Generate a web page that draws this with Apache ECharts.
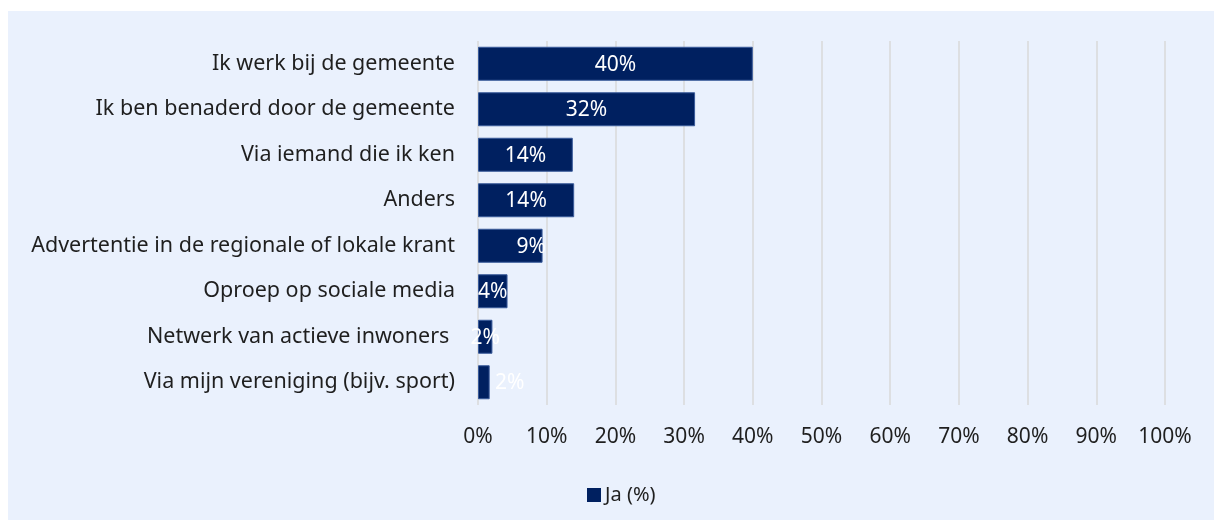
<!DOCTYPE html>
<html>
<head>
<meta charset="utf-8">
<script src="https://cdn.jsdelivr.net/npm/echarts@6/dist/echarts.min.js"></script>
<style>
  html, body { margin: 0; padding: 0; background: #ffffff; }
  #chart { position: absolute; left: 8px; top: 11px; width: 1206px; height: 509px; background: #EAF1FD; }
</style>
</head>
<body>
<div id="chart"></div>
<script>
// Categories (top to bottom) and share answering "Ja" in percent
const categories = [
  'Ik werk bij de gemeente',
  'Ik ben benaderd door de gemeente',
  'Via iemand die ik ken',
  'Anders',
  'Advertentie in de regionale of lokale krant',
  'Oproep op sociale media',
  'Netwerk van actieve inwoners ',
  'Via mijn vereniging (bijv. sport)'
];
const jaValues = [40.0, 31.6, 13.8, 14.0, 9.4, 4.3, 2.1, 1.7];
const seriesName = 'Ja (%)';
// Horizontal nudges for a few value labels
const labelShift = [0, 0, 0, 0, 21, 0, 0, 26];

const FONT = 'Noto Sans';
const chart = echarts.init(document.getElementById('chart'));
chart.setOption({
  backgroundColor: '#EAF1FD',
  animation: false,
  textStyle: { fontFamily: FONT },
  grid: { left: 470, right: 49, top: 30, bottom: 115, containLabel: false },
  legend: {
    data: [seriesName],
    left: 574, top: 469,
    icon: 'rect', itemWidth: 14, itemHeight: 14, itemGap: 6,
    itemStyle: { borderWidth: 0 },
    textStyle: { fontFamily: FONT, fontSize: 20, color: '#1F1F1F', padding: [0, 0, 0, -1] }
  },
  xAxis: {
    type: 'value', min: 0, max: 100, interval: 10,
    axisLine: { show: false }, axisTick: { show: false },
    splitLine: { show: true, lineStyle: { color: '#D9D9D9', width: 1.5 } },
    axisLabel: { formatter: '{value}%', fontFamily: FONT, fontSize: 21, color: '#1F1F1F', margin: 22 }
  },
  yAxis: {
    type: 'category', data: categories, inverse: true,
    axisLine: { show: false }, axisTick: { show: false },
    axisLabel: { fontFamily: FONT, fontSize: 21.5, color: '#1F1F1F', margin: 23 }
  },
  series: [{
    name: seriesName,
    type: 'bar',
    barWidth: 34,
    data: jaValues.map((v, i) => ({
      value: v,
      label: { offset: [labelShift[i], 1] }
    })),
    itemStyle: { color: '#002060', borderColor: '#3A5B9A', borderWidth: 1 },
    label: {
      show: true, position: 'inside',
      formatter: p => Math.round(p.value) + '%',
      color: '#ffffff', fontFamily: FONT, fontSize: 21
    }
  }]
});
</script>
</body>
</html>
